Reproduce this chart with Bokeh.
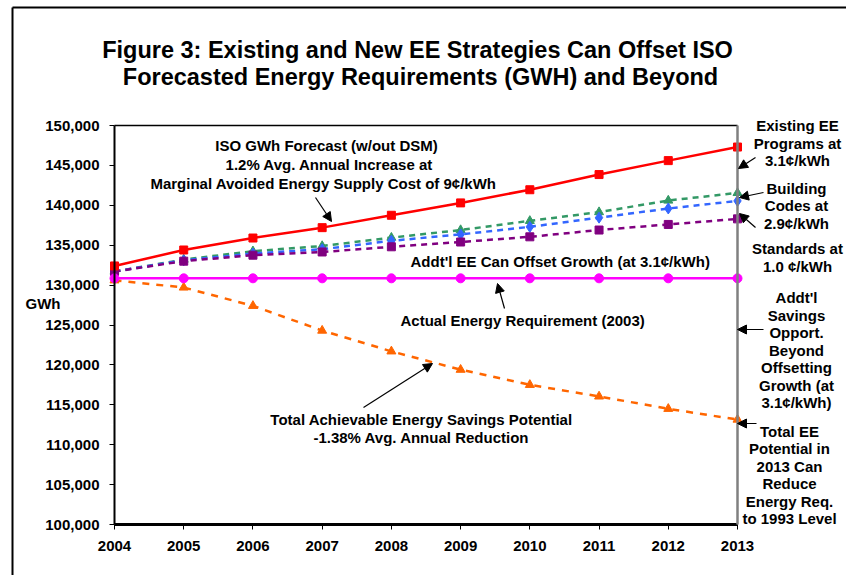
from bokeh.plotting import figure
from bokeh.models import (Range1d, FixedTicker, NumeralTickFormatter, Label, Arrow,
                          NormalHead, LinearAxis)
from bokeh.embed import file_html
from bokeh.resources import INLINE

# ---------------- data ----------------
years = [2004, 2005, 2006, 2007, 2008, 2009, 2010, 2011, 2012, 2013]
iso_forecast = [132400, 134400, 135900, 137200, 138750, 140300, 141950, 143850, 145600, 147300]
existing_ee = [131700, 133200, 134250, 134900, 135950, 136900, 138050, 139150, 140600, 141550]
building_codes = [131700, 133100, 133950, 134500, 135550, 136350, 137300, 138450, 139600, 140550]
standards = [131700, 133000, 133750, 134150, 134800, 135400, 136050, 136900, 137600, 138300]
actual_2003 = [130850, 130850, 130850, 130850, 130850, 130850, 130850, 130850, 130850, 130850]
achievable = [130600, 129700, 127400, 124300, 121700, 119400, 117500, 116050, 114500, 113150]
y_ticks = [100000, 105000, 110000, 115000, 120000, 125000, 130000, 135000, 140000, 145000, 150000]

FONT = "Liberation Sans"
W, H = 846, 575


# page-pixel -> data helpers (plot area: x 114..737, y 125..524)
def px(xp):
    return 2004 + (xp - 114) * 9 / 623


def py(yp):
    return 150000 - (yp - 125) * 50000 / 399


p = figure(width=W, height=H, output_backend="svg", toolbar_location=None,
           x_range=Range1d(px(0), px(W)), y_range=Range1d(py(H), py(0)),
           x_axis_location=None, y_axis_location=None, min_border=0)
p.outline_line_color = None
p.xgrid.visible = False
p.ygrid.visible = False
p.background_fill_color = "white"
p.border_fill_color = "white"

# axes placed at the plot-area edges
yax = LinearAxis(fixed_location=2004, bounds=(100000, 150000),
                 ticker=FixedTicker(ticks=y_ticks), formatter=NumeralTickFormatter(format="0,0"))
xax = LinearAxis(fixed_location=100000, bounds=(2004, 2013), ticker=FixedTicker(ticks=years))
for ax in (xax, yax):
    ax.axis_line_color = "black"
    ax.major_tick_line_color = "black"
    ax.major_tick_in = 0
    ax.major_tick_out = 5
    ax.minor_tick_line_color = None
    ax.major_label_text_font = FONT
    ax.major_label_text_font_style = "bold"
    ax.major_label_text_font_size = "15px"
    ax.major_label_text_color = "black"
xax.axis_line_width = 3
yax.axis_line_width = 2
xax.major_label_standoff = 11
yax.major_label_standoff = 10
p.add_layout(yax, "left")
p.add_layout(xax, "below")

# frame top (black) and right (gray) borders
top = LinearAxis(fixed_location=150000, bounds=(2004, 2013), ticker=FixedTicker(ticks=[]),
                 major_label_text_font_size="0px", axis_line_color="black", axis_line_width=1.5,
                 major_tick_line_color=None, minor_tick_line_color=None)
right = LinearAxis(fixed_location=2013, bounds=(100000, 150000), ticker=FixedTicker(ticks=[]),
                   major_label_text_font_size="0px", axis_line_color="#808080", axis_line_width=2.5,
                   major_tick_line_color=None, minor_tick_line_color=None)
p.add_layout(top, "above")
p.add_layout(right, "right")

# ---------------- series ----------------
p.line(years, existing_ee, line_color="#339966", line_width=2.5, line_dash="6 5")
p.scatter(years, existing_ee, marker="triangle", size=9, color="#339966")
p.line(years, building_codes, line_color="#3366FF", line_width=2.5, line_dash="6 5")
p.scatter(years, building_codes, marker="diamond", size=11, color="#3366FF")
p.line(years, standards, line_color="#800080", line_width=2.5, line_dash="6 5")
p.scatter(years, standards, marker="square", size=8, color="#800080")
p.line(years, achievable, line_color="#FF6600", line_width=2.5, line_dash="7 7")
p.scatter(years, achievable, marker="triangle", size=9, color="#FF6600")
p.line(years, actual_2003, line_color="#FF00FF", line_width=2.5)
p.scatter(years, actual_2003, marker="circle", size=9, color="#FF00FF")
p.line(years, iso_forecast, line_color="#FF0000", line_width=2.5)
p.scatter(years, iso_forecast, marker="square", size=8, color="#FF0000")


# ---------------- annotations ----------------
def txt(s, xp, yp, size="15px", align="center"):
    p.add_layout(Label(x=px(xp), y=py(yp), text=s, text_font=FONT, text_font_style="bold",
                       text_font_size=size, text_align=align, text_baseline="middle",
                       text_color="black"))


def arrow(x0, y0, x1, y1, head=True):
    p.add_layout(Arrow(end=NormalHead(size=9, fill_color="black", line_color="black") if head else None,
                       x_start=px(x0), y_start=py(y0), x_end=px(x1), y_end=py(y1),
                       line_color="black", line_width=1.2 if head else 2))


# outer border (left and top)
arrow(12, 7, 12, 590, head=False)
arrow(12, 7, 860, 7, head=False)

# title
txt("Figure 3: Existing and New EE Strategies Can Offset ISO", 417, 49, size="23.5px")
txt("Forecasted Energy Requirements (GWH) and Beyond", 420, 76, size="23.5px")

txt("GWh", 25, 303, align="left")

txt("ISO GWh Forecast (w/out DSM)", 326, 145)
txt("1.2% Avg. Annual Increase at", 329, 164)
txt("Marginal Avoided Energy Supply Cost of 9\u00a2/kWh", 323, 183)
arrow(315, 197, 331, 221)

txt("Addt'l EE Can Offset Growth  (at 3.1\u00a2/kWh)", 410, 261, align="left")
txt("Actual Energy Requirement (2003)", 400, 320, align="left")
arrow(504, 308, 497, 283)

txt("Total Achievable Energy Savings Potential", 421, 419)
txt("-1.38% Avg. Annual Reduction", 421, 437)
arrow(363, 407, 432, 363)

# right-side notes
for s, yy in [("Existing EE", 125), ("Programs at", 142.7), ("3.1\u00a2/kWh", 160)]:
    txt(s, 797, yy)
arrow(755, 157, 738, 168)
for s, yy in [("Building", 188.3), ("Codes at", 205), ("2.9\u00a2/kWh", 222.7)]:
    txt(s, 796, yy)
arrow(763, 192, 739, 197)
arrow(755, 227, 739, 213)
for s, yy in [("Standards at", 248.3), ("1.0 \u00a2/kWh", 265.7)]:
    txt(s, 797, yy)
for s, yy in [("Addt'l", 297.3), ("Savings", 315), ("Opport.", 332.3), ("Beyond", 350),
              ("Offsetting", 367.3), ("Growth (at", 385), ("3.1\u00a2/kWh)", 402.3)]:
    txt(s, 796, yy)
arrow(763, 329, 737, 329)
for s, yy in [("Total EE", 430.7), ("Potential in", 448), ("2013 Can", 465.7), ("Reduce", 483.3),
              ("Energy Req.", 500.7), ("to 1993 Level", 518.3)]:
    txt(s, 789, yy)
arrow(756, 423, 737, 423)

open("out.html", "w").write(file_html(p, INLINE))
